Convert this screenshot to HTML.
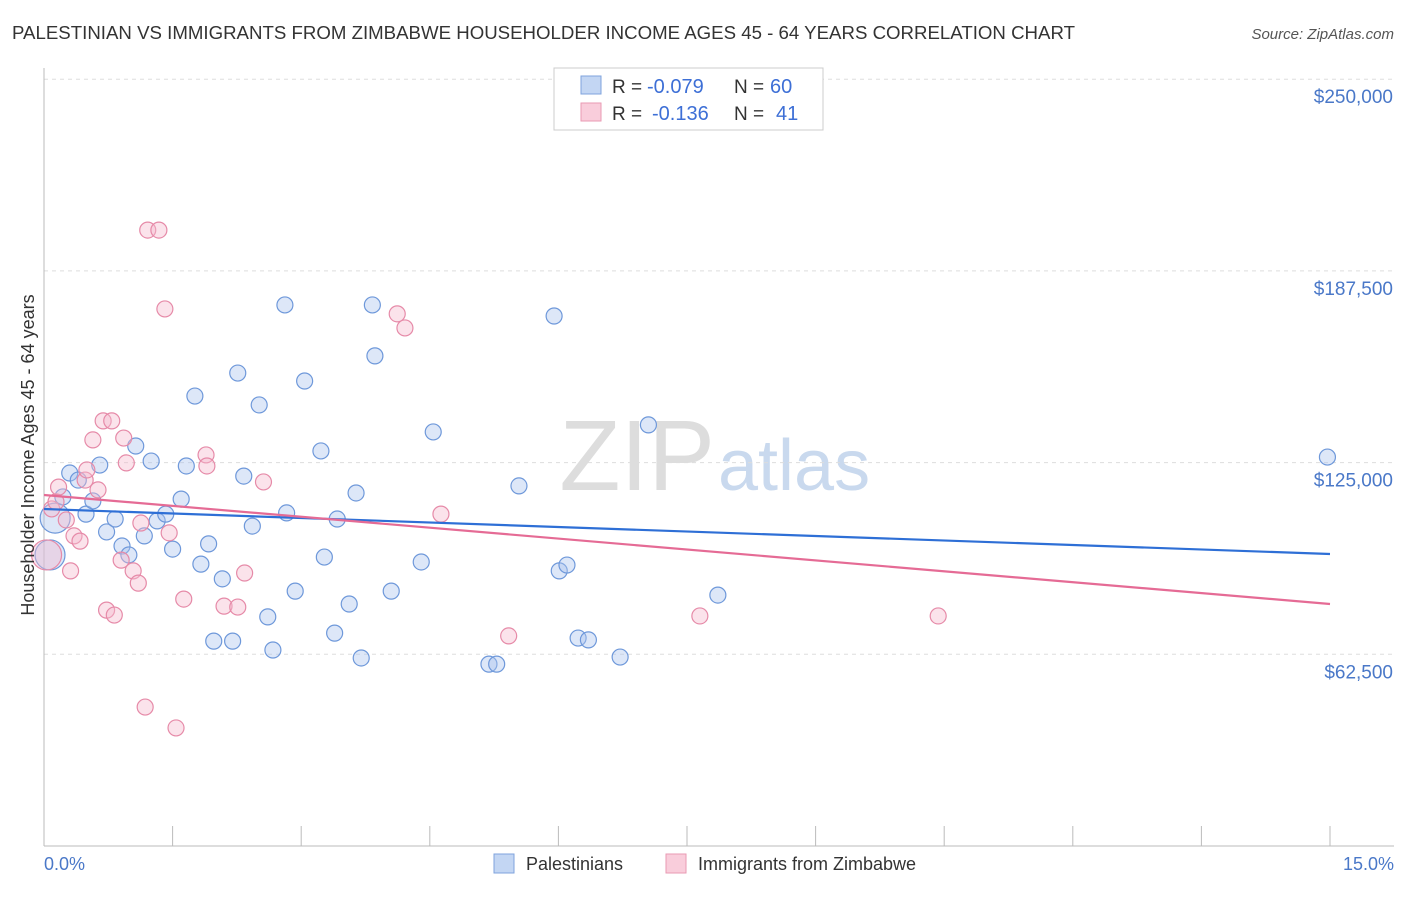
<!DOCTYPE html>
<html><head><meta charset="utf-8"><style>
body{margin:0;background:#fff;font-family:"Liberation Sans",sans-serif;}
svg text{font-family:"Liberation Sans",sans-serif;}
</style></head><body>
<svg id="chart" width="1406" height="892">
<text x="12" y="39" font-size="18" fill="#333" textLength="1063" lengthAdjust="spacingAndGlyphs">PALESTINIAN VS IMMIGRANTS FROM ZIMBABWE HOUSEHOLDER INCOME AGES 45 - 64 YEARS CORRELATION CHART</text>
<text x="1394" y="39" font-size="15" fill="#555" font-style="italic" text-anchor="end">Source: ZipAtlas.com</text>
<text x="715" y="490" font-size="100" fill="#ddd" text-anchor="end" font-family="Liberation Serif">ZIP</text>
<text x="718" y="490" font-size="72" fill="#c9d9ee">atlas</text>
<g id="grid"></g><g id="axes"></g><g id="pts"></g><g id="trends"></g>
<text transform="translate(34,455) rotate(-90)" font-size="18" fill="#333" text-anchor="middle">Householder Income Ages 45 - 64 years</text>
<text x="44" y="870" font-size="18" fill="#4a78c8">0.0%</text>
<text x="1394" y="870" font-size="18" fill="#4a78c8" text-anchor="end">15.0%</text>
<g>
<rect x="554" y="68" width="269" height="62" fill="#fff" stroke="#ccc"/>
<rect x="581" y="76" width="20" height="18" fill="#c3d6f3" stroke="#7fa3dd"/>
<rect x="581" y="103" width="20" height="18" fill="#f9cddb" stroke="#e99ab3"/>
<text x="612" y="93" font-size="19" fill="#333">R =</text>
<text x="647" y="93" font-size="20" fill="#3d6fd6">-0.079</text>
<text x="734" y="93" font-size="19" fill="#333">N =</text>
<text x="770" y="93" font-size="20" fill="#3d6fd6">60</text>
<text x="612" y="120" font-size="19" fill="#333">R =</text>
<text x="652" y="120" font-size="20" fill="#3d6fd6">-0.136</text>
<text x="734" y="120" font-size="19" fill="#333">N =</text>
<text x="776" y="120" font-size="20" fill="#3d6fd6">41</text>
</g>
<g>
<rect x="494" y="854" width="20" height="19" fill="#c3d6f3" stroke="#7fa3dd"/>
<text x="526" y="870" font-size="18" fill="#333">Palestinians</text>
<rect x="666" y="854" width="20" height="19" fill="#f9cddb" stroke="#e99ab3"/>
<text x="698" y="870" font-size="18" fill="#333">Immigrants from Zimbabwe</text>
</g>
</svg>
<script>
const yTicks=[62500,125000,187500,250000];
const yTickLabels=["$62,500","$125,000","$187,500","$250,000"];
const blueX=[.07,.13,.22,.30,.40,.49,.57,.65,.73,.83,.91,.99,1.07,1.17,1.25,1.32,1.42,1.50,1.60,1.66,1.76,1.83,1.92,1.98,2.08,2.20,2.26,2.33,2.43,2.51,2.61,2.67,2.81,2.83,2.93,3.04,3.23,3.27,3.42,3.39,3.56,3.64,3.70,3.83,3.86,4.05,4.40,4.54,5.19,5.28,5.54,5.95,6.01,6.10,6.23,6.35,6.72,7.05,7.86,14.97];
const blueY=[94900,106900,113800,121600,119300,108200,112500,124200,102400,106600,97800,94900,130400,101100,125500,106000,108200,96800,113100,123900,146700,91900,98500,66800,87100,66800,154200,120600,104300,143800,74700,63900,176400,108600,83100,151600,128800,94200,106600,69400,78900,115100,61300,176400,159800,83100,92600,135000,59300,59300,117400,172800,89700,91600,67800,67200,61600,137300,81800,126800];
const pinkX=[.03,.09,.14,.17,.26,.31,.35,.42,.48,.50,.57,.63,.69,.73,.79,.82,.90,.93,.96,1.04,1.10,1.13,1.18,1.21,1.34,1.41,1.46,1.54,1.63,1.89,1.90,2.10,2.26,2.34,2.56,4.12,4.21,4.63,5.42,7.65,10.43];
const pinkY=[94900,109900,112200,117000,106300,89700,101100,99400,119300,122600,132400,116100,138600,76900,138600,75300,93200,133000,124900,89700,85700,105300,45300,200800,200800,175100,102100,38500,80500,127500,123900,78200,77900,89000,118700,173500,168900,108200,68500,75000,75000];
const blueTrend=[109870,95200];
const pinkTrend=[114440,78900];
const NS='http://www.w3.org/2000/svg';
const X=v=>44+v/15*1286, Y=v=>846-v/62500*191.7;
function mk(p,t,a){const e=document.createElementNS(NS,t);for(const k in a)e.setAttribute(k,a[k]);document.getElementById(p).appendChild(e);return e;}
yTicks.forEach((t,i)=>{
 const l=mk('grid','line',{x1:44,x2:1394,y1:Y(t),y2:Y(t),stroke:'#ddd','stroke-dasharray':'4,4'});
 
 
 const tx=mk('grid','text',{x:1393,y:Y(t)+24,'font-size':19,fill:'#4a78c8','text-anchor':'end'});tx.textContent=yTickLabels[i];
 
 
});
const ax=mk('axes','line',{x1:44,x2:44,y1:68,y2:846,stroke:'#bbb'});


const bx=mk('axes','line',{x1:44,x2:1394,y1:846,y2:846,stroke:'#bbb'});


for(let i=0;i<=10;i++){const t=mk('axes','line',{x1:X(i*1.5),x2:X(i*1.5),y1:826,y2:846,stroke:'#bbb'});
 
 }
function pts(xs,ys,fill,stroke,name,big){xs.forEach((x,i)=>{
 const c=mk('pts','circle',{cx:X(x),cy:Y(ys[i]),r:big.includes(i)?15:8,fill:fill,'fill-opacity':0.4,stroke:stroke,'stroke-width':1.2});
 
 
});}
pts(blueX,blueY,'#a9c4ee','#6e98da','palestinian-point',[0,1]);
pts(pinkX,pinkY,'#f6b9cc','#e68aa8','zimbabwe-point',[0]);
const bl=mk('trends','line',{x1:X(0),x2:X(15),y1:Y(blueTrend[0]),y2:Y(blueTrend[1]),stroke:'#2e6fd6','stroke-width':2.2});


const pl=mk('trends','line',{x1:X(0),x2:X(15),y1:Y(pinkTrend[0]),y2:Y(pinkTrend[1]),stroke:'#e56b95','stroke-width':2.2});


</script>
</body></html>
